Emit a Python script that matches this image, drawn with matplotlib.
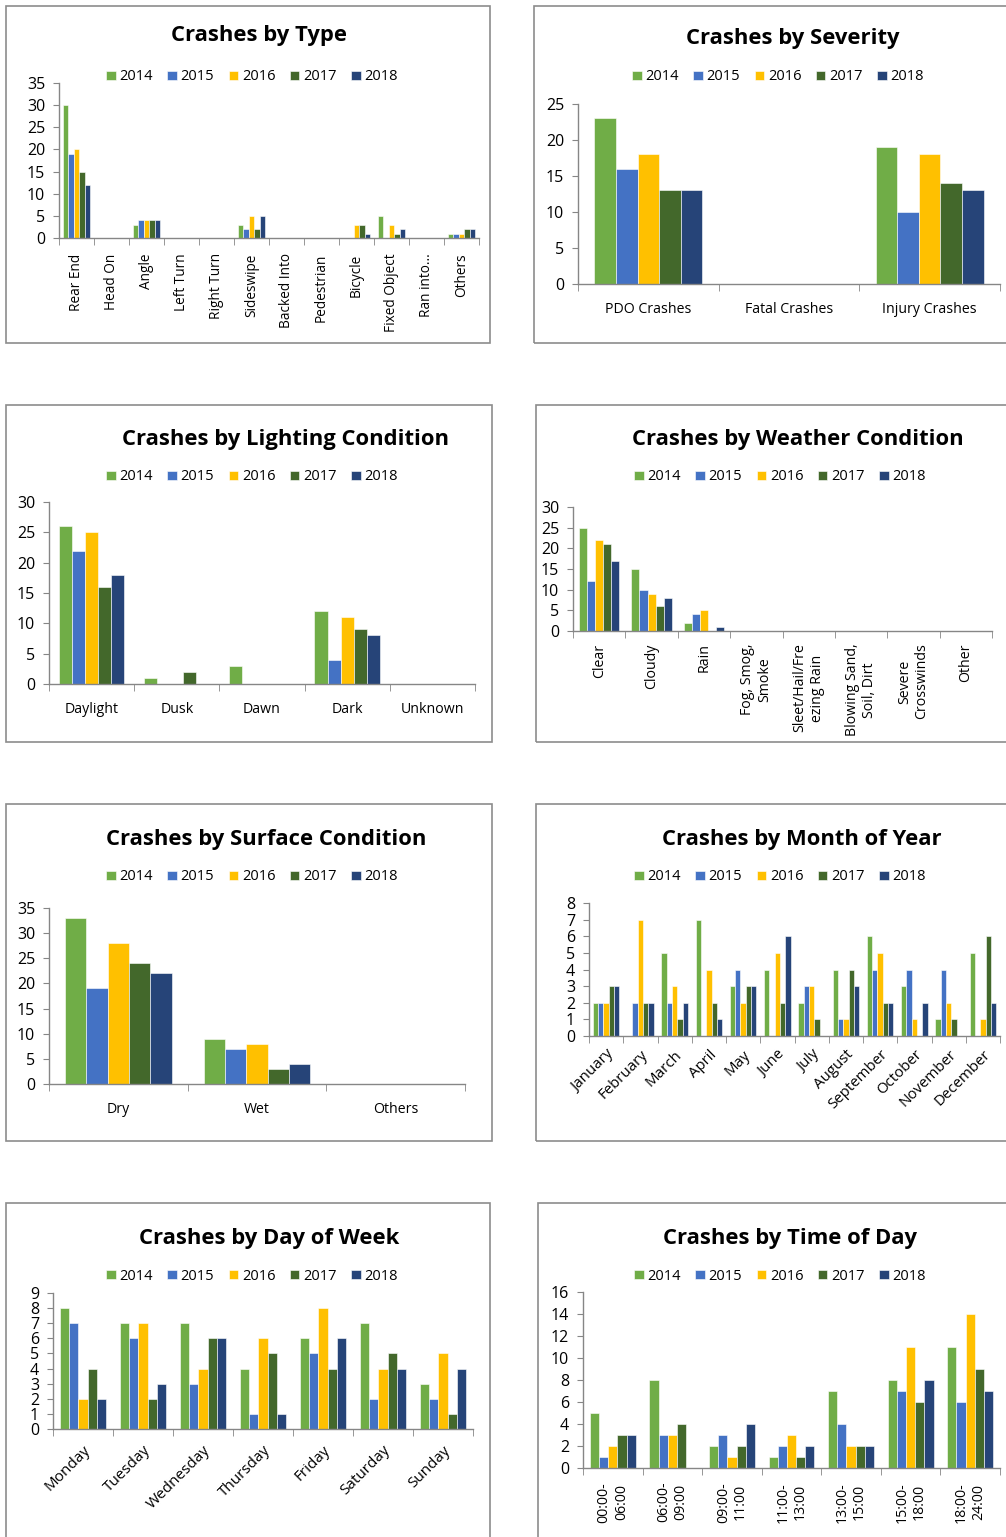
import matplotlib
matplotlib.use("Agg")
import matplotlib.pyplot as plt
import matplotlib.patches as patches
import numpy as np

plt.rcParams['font.family'] = ['Open Sans', 'DejaVu Sans']

W, H = 1006, 1537

years = ['2014', '2015', '2016', '2017', '2018']
colors = ['#70AD47', '#4472C4', '#FFC000', '#43682B', '#264478']

# crashes by type
type_cats = ['Rear End', 'Head On', 'Angle', 'Left Turn', 'Right Turn', 'Sideswipe',
             'Backed Into', 'Pedestrian', 'Bicycle', 'Fixed Object', 'Ran into...', 'Others']
type_2014 = [30, 0, 3, 0, 0, 3, 0, 0, 0, 5, 0, 1]
type_2015 = [19, 0, 4, 0, 0, 2, 0, 0, 0, 0, 0, 1]
type_2016 = [20, 0, 4, 0, 0, 5, 0, 0, 3, 3, 0, 1]
type_2017 = [15, 0, 4, 0, 0, 2, 0, 0, 3, 1, 0, 2]
type_2018 = [12, 0, 4, 0, 0, 5, 0, 0, 1, 2, 0, 2]

# crashes by severity
sev_cats = ['PDO Crashes', 'Fatal Crashes', 'Injury Crashes']
sev_2014 = [23, 0, 19]
sev_2015 = [16, 0, 10]
sev_2016 = [18, 0, 18]
sev_2017 = [13, 0, 14]
sev_2018 = [13, 0, 13]

# lighting
light_cats = ['Daylight', 'Dusk', 'Dawn', 'Dark', 'Unknown']
light_2014 = [26, 1, 3, 12, 0]
light_2015 = [22, 0, 0, 4, 0]
light_2016 = [25, 0, 0, 11, 0]
light_2017 = [16, 2, 0, 9, 0]
light_2018 = [18, 0, 0, 8, 0]

# weather
weather_cats = ['Clear', 'Cloudy', 'Rain', 'Fog, Smog,\nSmoke', 'Sleet/Hail/Fre\nezing Rain',
                'Blowing Sand,\nSoil, Dirt', 'Severe\nCrosswinds', 'Other']
weather_2014 = [25, 15, 2, 0, 0, 0, 0, 0]
weather_2015 = [12, 10, 4, 0, 0, 0, 0, 0]
weather_2016 = [22, 9, 5, 0, 0, 0, 0, 0]
weather_2017 = [21, 6, 0, 0, 0, 0, 0, 0]
weather_2018 = [17, 8, 1, 0, 0, 0, 0, 0]

# surface
surf_cats = ['Dry', 'Wet', 'Others']
surf_2014 = [33, 9, 0]
surf_2015 = [19, 7, 0]
surf_2016 = [28, 8, 0]
surf_2017 = [24, 3, 0]
surf_2018 = [22, 4, 0]

# month
month_cats = ['January', 'February', 'March', 'April', 'May', 'June', 'July',
              'August', 'September', 'October', 'November', 'December']
month_2014 = [2, 0, 5, 7, 3, 4, 2, 4, 6, 3, 1, 5]
month_2015 = [2, 2, 2, 0, 4, 0, 3, 1, 4, 4, 4, 0]
month_2016 = [2, 7, 3, 4, 2, 5, 3, 1, 5, 1, 2, 1]
month_2017 = [3, 2, 1, 2, 3, 2, 1, 4, 2, 0, 1, 6]
month_2018 = [3, 2, 2, 1, 3, 6, 0, 3, 2, 2, 0, 2]

# day of week
day_cats = ['Monday', 'Tuesday', 'Wednesday', 'Thursday', 'Friday', 'Saturday', 'Sunday']
day_2014 = [8, 7, 7, 4, 6, 7, 3]
day_2015 = [7, 6, 3, 1, 5, 2, 2]
day_2016 = [2, 7, 4, 6, 8, 4, 5]
day_2017 = [4, 2, 6, 5, 4, 5, 1]
day_2018 = [2, 3, 6, 1, 6, 4, 4]

# time of day
time_cats = ['00:00-\n06:00', '06:00-\n09:00', '09:00-\n11:00', '11:00-\n13:00',
             '13:00-\n15:00', '15:00-\n18:00', '18:00-\n24:00']
time_2014 = [5, 8, 2, 1, 7, 8, 11]
time_2015 = [1, 3, 3, 2, 4, 7, 6]
time_2016 = [2, 3, 1, 3, 2, 11, 14]
time_2017 = [3, 4, 2, 1, 2, 6, 9]
time_2018 = [3, 0, 4, 2, 2, 8, 7]


fig = plt.figure(figsize=(W / 100, H / 100), dpi=100)


def fx(x):
    return x / W


def fy(y):
    return 1 - y / H


def panel(frame, axbox, title, title_xy, leg_xy, cats, series, ymax, ystep, labels,
          xpad=9, xsize=10.2):
    l, t, r, b = frame
    fig.patches.append(patches.Rectangle((fx(l), fy(b)), fx(r - l), (b - t) / H,
                                         transform=fig.transFigure, fill=False,
                                         edgecolor='#8c8c8c', linewidth=1.2))
    fig.text(fx(title_xy[0]), fy(title_xy[1] + 1.5), title, ha='center', va='center',
             fontsize=15.8, fontweight='bold', color='#000000')

    al, at, ar, ab = axbox
    ax = fig.add_axes([fx(al), fy(ab), fx(ar - al), (ab - at) / H])
    n = len(cats)
    x = np.arange(n)
    group = 0.77
    bw = group / 5
    for i in range(5):
        ax.bar(x - group / 2 + bw * (i + 0.5), series[i], bw, color=colors[i],
               edgecolor='white', linewidth=0.4, label=years[i])
    ax.set_xlim(-0.5, n - 0.5)
    ax.set_ylim(0, ymax)
    ax.set_yticks(np.arange(0, ymax + 0.1, ystep))
    for s in ['top', 'right']:
        ax.spines[s].set_visible(False)
    for s in ['left', 'bottom']:
        ax.spines[s].set_color('#868686')
        ax.spines[s].set_linewidth(1)
    ax.tick_params(axis='y', length=4, color='#868686', labelsize=11.5, pad=6)
    ax.set_xticks(np.arange(-0.5, n, 1), minor=True)
    ax.tick_params(axis='x', which='minor', length=5, color='#868686')
    ax.set_xticks(x)
    ax.tick_params(axis='x', which='major', length=0, labelsize=xsize, pad=xpad)
    ax.set_xticklabels(cats, **labels)

    handles, lbls = ax.get_legend_handles_labels()
    fig.legend(handles, lbls, loc='center', bbox_to_anchor=(fx(leg_xy[0]), fy(leg_xy[1] + 2)),
               ncol=5, frameon=False, fontsize=10.5, handlelength=0.65, handleheight=0.65,
               handletextpad=0.25, columnspacing=1.0, borderpad=0)
    return ax


vert = dict(rotation=90, va='top', ha='center', multialignment='center')
slant = dict(rotation=45, ha='right', va='top', rotation_mode='anchor')

panel((6, 6, 490, 343), (59, 83, 479, 238), 'Crashes by Type', (259, 34), (252, 75),
      type_cats, [type_2014, type_2015, type_2016, type_2017, type_2018], 35, 5, vert,
      xpad=11, xsize=9.8)
panel((534, 6, 1012, 343), (578, 104, 1000, 284), 'Crashes by Severity', (793, 37), (778, 75),
      sev_cats, [sev_2014, sev_2015, sev_2016, sev_2017, sev_2018], 25, 5, dict(), xpad=13)
panel((6, 405, 492, 742), (49, 502, 475, 684), 'Crashes by Lighting Condition', (285, 438), (252, 475),
      light_cats, [light_2014, light_2015, light_2016, light_2017, light_2018], 30, 5, dict(), xpad=13)
panel((536, 405, 1012, 742), (573, 507, 992, 631), 'Crashes by Weather Condition', (798, 438), (780, 475),
      weather_cats, [weather_2014, weather_2015, weather_2016, weather_2017, weather_2018], 30, 5,
      vert, xpad=9)
panel((6, 804, 492, 1141), (49, 908, 465, 1084), 'Crashes by Surface Condition', (266, 838), (252, 875),
      surf_cats, [surf_2014, surf_2015, surf_2016, surf_2017, surf_2018], 35, 5, dict(), xpad=13)
panel((536, 804, 1012, 1141), (589, 903, 1000, 1036), 'Crashes by Month of Year', (802, 838), (780, 875),
      month_cats, [month_2014, month_2015, month_2016, month_2017, month_2018], 8, 1, slant,
      xpad=8, xsize=10.8)
panel((6, 1203, 490, 1545), (53, 1293, 473, 1429), 'Crashes by Day of Week', (269, 1237), (252, 1274),
      day_cats, [day_2014, day_2015, day_2016, day_2017, day_2018], 9, 1, slant, xpad=10, xsize=11)
panel((538, 1203, 1012, 1545), (583, 1292, 1000, 1468), 'Crashes by Time of Day', (790, 1237), (780, 1274),
      time_cats, [time_2014, time_2015, time_2016, time_2017, time_2018], 16, 2, vert, xpad=10)

fig.savefig('out.png', dpi=100)
